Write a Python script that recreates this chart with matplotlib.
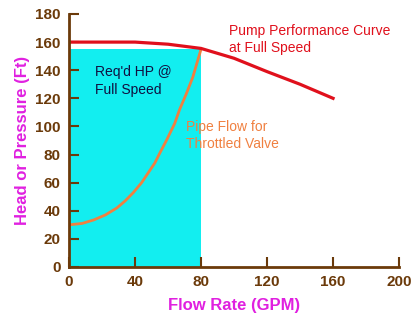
import matplotlib
matplotlib.use("Agg")
import matplotlib.pyplot as plt

plt.rcParams['font.family'] = ['Liberation Sans', 'DejaVu Sans']

# pump performance curve at full speed
pump_flow = [0, 20, 40, 60, 80, 100, 120, 140, 160]
pump_head = [160, 160, 160, 158.5, 155.5, 148.5, 139, 130, 120]

# pipe flow for throttled valve
pipe_flow = [0, 8, 15, 22, 29, 34, 39, 44, 48, 52, 55, 59, 64, 67, 71, 75, 80]
pipe_head = [30, 31, 33.5, 37, 42, 47, 53, 60, 67, 74, 81, 90, 102, 112, 123, 135, 155]

# required HP area
hp_flow = [0, 80]
hp_head = [155, 155]

xticks = [0, 40, 80, 120, 160, 200]
yticks = [0, 20, 40, 60, 80, 100, 120, 140, 160, 180]

brown = "#6B3A0A"
magenta = "#E020E0"

fig = plt.figure(figsize=(4.17, 3.23), dpi=100)
ax = fig.add_axes([0.1655, 0.1734, 0.7915, 0.7833])

ax.fill_between(hp_flow, 0, hp_head, color="#12EEF0", linewidth=0, zorder=1)
ax.plot(pipe_flow, pipe_head, color="#F08040", lw=2.0, zorder=3)
ax.plot(pump_flow, pump_head, color="#E0101C", lw=2.3, zorder=3)

ax.set_xlim(0, 200)
ax.set_ylim(0, 180)
ax.set_xticks(xticks)
ax.set_yticks(yticks)
ax.tick_params(direction="in", length=7, width=1.5, color=brown, labelcolor=brown,
               labelsize=11, pad=6)
for lab in ax.get_xticklabels() + ax.get_yticklabels():
    lab.set_fontweight("bold")

for s in ["top", "right"]:
    ax.spines[s].set_visible(False)
for s in ["left", "bottom"]:
    ax.spines[s].set_color(brown)
    ax.spines[s].set_linewidth(2)
    ax.spines[s].set_zorder(4)

ax.set_xlabel("Flow Rate (GPM)", color=magenta, fontsize=12, fontweight="bold", labelpad=6)
ax.set_ylabel("Head or Pressure (Ft)", color=magenta, fontsize=12, fontweight="bold", labelpad=4)

ax.text(97, 173, "Pump Performance Curve\nat Full Speed", color="#E0101C", fontsize=10,
        va="top", ha="left", linespacing=1.3)
ax.text(16, 143.5, "Req'd HP @\nFull Speed", color="#101040", fontsize=10,
        va="top", ha="left", linespacing=1.3)
ax.text(71, 104.5, "Pipe Flow for\nThrottled Valve", color="#F08040", fontsize=10,
        va="top", ha="left", linespacing=1.3)

fig.savefig("out.png", dpi=100)
